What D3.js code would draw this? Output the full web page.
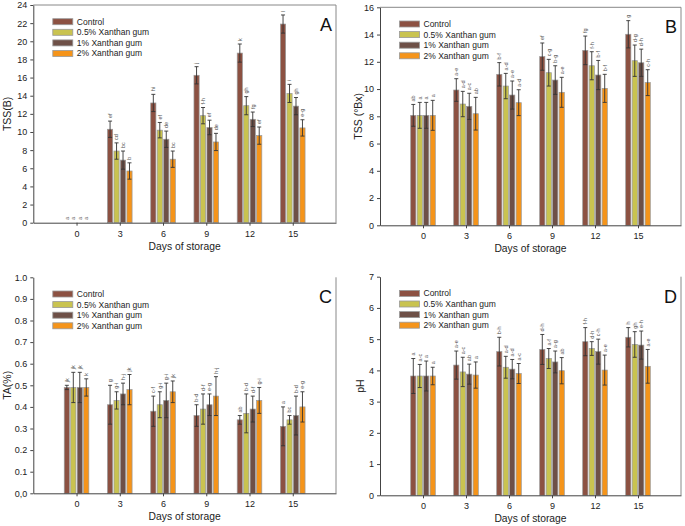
<!DOCTYPE html>
<html><head><meta charset="utf-8">
<script src="https://cdn.jsdelivr.net/npm/d3@7"></script>
<style>body{margin:0;background:#fff}svg{display:block;font-family:"Liberation Sans",Arial,sans-serif}</style>
</head><body><svg id="c" width="685" height="526"></svg>
<script>
const days = ["0","3","6","9","12","15"];
const seriesNames = ["Control","0.5% Xanthan gum","1% Xanthan gum","2% Xanthan gum"];
const seriesColors = ["#8c5142","#c9c350","#6e5047","#f5941a"];

// Panel A: TSS(B)
const A_control = [0, 10.3, 13.2, 16.25, 18.7, 21.9];
const A_x05 = [0, 7.9, 10.2, 11.8, 12.9, 14.25];
const A_x1 = [0, 6.9, 9.2, 10.5, 11.4, 12.85];
const A_x2 = [0, 5.7, 7.0, 8.9, 9.6, 10.45];
const A_err_control = [0, 0.9, 0.95, 0.95, 1.0, 1.0];
const A_err_x05 = [0, 0.9, 0.85, 0.9, 1.0, 1.0];
const A_err_x1 = [0, 1.0, 0.9, 0.8, 0.8, 0.95];
const A_err_x2 = [0, 0.9, 0.9, 0.95, 0.95, 0.9];
const A_lab_control = ["a","ef","hi","j","k","l"];
const A_lab_x05 = ["a","cd","ef","f-h","gh","i"];
const A_lab_x1 = ["a","bc","de","ef","fg","gh"];
const A_lab_x2 = ["a","b","bc","de","ef","e-g"];

// Panel B: TSS (°Bx)
const B_control = [8.07, 9.93, 11.08, 12.38, 12.84, 14.02];
const B_x05 = [8.07, 8.9, 10.22, 11.2, 11.71, 12.08];
const B_x1 = [8.07, 8.73, 9.56, 10.66, 11.03, 11.93];
const B_x2 = [8.07, 8.19, 9.0, 9.76, 10.05, 10.47];
const B_err_control = [0.8, 0.83, 0.86, 1.0, 1.05, 1.0];
const B_err_x05 = [0.95, 0.93, 0.93, 0.98, 1.03, 1.15];
const B_err_x1 = [0.95, 0.96, 1.03, 1.05, 1.07, 1.0];
const B_err_x2 = [1.1, 1.2, 0.95, 1.1, 1.03, 0.95];
const B_lab_control = ["ab","a-e","b-f","ef","fg","g"];
const B_lab_x05 = ["a","a-d","a-d","c-g","f-h","d-g"];
const B_lab_x1 = ["a","a-c","a-e","b-g","b-f","d-h"];
const B_lab_x2 = ["a","ab","a-d","a-e","b-f","c-h"];

// Panel C: TA(%)
const C_control = [0.49, 0.41, 0.38, 0.36, 0.34, 0.31];
const C_x05 = [0.49, 0.43, 0.41, 0.39, 0.37, 0.34];
const C_x1 = [0.49, 0.46, 0.43, 0.41, 0.39, 0.36];
const C_x2 = [0.49, 0.48, 0.47, 0.45, 0.43, 0.40];
const C_err_control = [0.01, 0.09, 0.07, 0.05, 0.02, 0.09];
const C_err_x05 = [0.07, 0.04, 0.06, 0.07, 0.09, 0.02];
const C_err_x1 = [0.07, 0.05, 0.08, 0.05, 0.06, 0.09];
const C_err_x2 = [0.04, 0.07, 0.05, 0.09, 0.06, 0.07];
const C_lab_control = ["jk","g","c-f","b-d","ab","a"];
const C_lab_x05 = ["jk","g-i","g-i","d-f","b-d","bc"];
const C_lab_x1 = ["jk","h-j","g-i","e-g","d-f","b-d"];
const C_lab_x2 = ["k","jk","jk","h-j","g-i","e-g"];

// Panel D: pH
const D_control = [3.82, 4.17, 4.6, 4.67, 4.92, 5.06];
const D_x05 = [3.82, 3.95, 4.1, 4.38, 4.7, 4.83];
const D_x1 = [3.82, 3.88, 4.04, 4.27, 4.6, 4.81];
const D_x2 = [3.82, 3.85, 3.9, 3.99, 4.01, 4.13];
const D_err_control = [0.56, 0.45, 0.46, 0.48, 0.45, 0.31];
const D_err_x05 = [0.37, 0.47, 0.35, 0.32, 0.22, 0.41];
const D_err_x1 = [0.48, 0.32, 0.31, 0.35, 0.4, 0.45];
const D_err_x2 = [0.28, 0.42, 0.32, 0.42, 0.48, 0.54];
const D_lab_control = ["a","a-e","b-h","d-h","f-h","h"];
const D_lab_x05 = ["a-c","a-c","a-d","a-f","d-h","gh"];
const D_lab_x1 = ["a","ab","a-d","a-g","c-h","e-h"];
const D_lab_x2 = ["a","a","a-c","ab","a-e","a-e"];

const yTicksA = d3.range(0, 25, 2);
const yTicksB = d3.range(0, 17, 2);
const yTicksC = d3.range(0, 11).map(d => d / 10);
const yTicksD = d3.range(0, 8, 1);

const panels = [
  {letter:"A", ylabel:"TSS(B)", box:{l:33.3,r:336,t:5,b:222.7}, topLine:true, ymax:24, ticks:yTicksA, fmt:d=>d,
   vals:[A_control,A_x05,A_x1,A_x2], errs:[A_err_control,A_err_x05,A_err_x1,A_err_x2], labs:[A_lab_control,A_lab_x05,A_lab_x1,A_lab_x2], ylx:7},
  {letter:"B", ylabel:"TSS (°Bx)", box:{l:380,r:681,t:7.3,b:225.3}, topLine:true, ymax:16, ticks:yTicksB, fmt:d=>d,
   vals:[B_control,B_x05,B_x1,B_x2], errs:[B_err_control,B_err_x05,B_err_x1,B_err_x2], labs:[B_lab_control,B_lab_x05,B_lab_x1,B_lab_x2], ylx:358},
  {letter:"C", ylabel:"TA(%)", box:{l:33.3,r:336,t:277.3,b:493.3}, topLine:false, ymax:1, ticks:yTicksC, fmt:d=> d===0 ? "0,0" : d3.format(".1f")(d),
   vals:[C_control,C_x05,C_x1,C_x2], errs:[C_err_control,C_err_x05,C_err_x1,C_err_x2], labs:[C_lab_control,C_lab_x05,C_lab_x1,C_lab_x2], ylx:7},
  {letter:"D", ylabel:"pH", box:{l:380,r:681,t:276.7,b:495.3}, topLine:false, ymax:7, ticks:yTicksD, fmt:d=>d,
   vals:[D_control,D_x05,D_x1,D_x2], errs:[D_err_control,D_err_x05,D_err_x1,D_err_x2], labs:[D_lab_control,D_lab_x05,D_lab_x1,D_lab_x2], ylx:360}
];

const svg = d3.select("#c");
const axisColor = "#444";

panels.forEach(p => {
  const {l,r,t,b} = p.box;
  const g = svg.append("g");
  const xCat = d3.scaleLinear().domain([-1, days.length]).range([l, r]);
  const xPos = d => xCat(days.indexOf(d));
  const xSub = d3.scaleBand().domain(d3.range(seriesNames.length)).range([-12.3, 12.3]).paddingInner(0.2);
  const y = d3.scaleLinear().domain([0, p.ymax]).range([b, t]);

  // frame lines
  if (p.topLine) g.append("line").attr("x1", l).attr("x2", r).attr("y1", t).attr("y2", t).attr("stroke", "#888").attr("stroke-width", 1);
  g.append("line").attr("x1", r).attr("x2", r).attr("y1", t).attr("y2", b).attr("stroke", "#888").attr("stroke-width", 1);

  // bars
  seriesNames.forEach((s, si) => {
    days.forEach((d, di) => {
      const v = p.vals[si][di], e = p.errs[si][di];
      const cx = xPos(d) + xSub(si);
      g.append("rect").attr("x", cx).attr("width", xSub.bandwidth())
        .attr("y", y(v)).attr("height", y(0) - y(v))
        .attr("fill", seriesColors[si]).attr("stroke", "#999").attr("stroke-width", 0.7);
      const mx = cx + xSub.bandwidth() / 2;
      if (e > 0) {
        g.append("line").attr("x1", mx).attr("x2", mx).attr("y1", y(v - e)).attr("y2", y(v + e)).attr("stroke", "#333").attr("stroke-width", 0.9);
        [v - e, v + e].forEach(yy => g.append("line").attr("x1", mx - 2).attr("x2", mx + 2).attr("y1", y(yy)).attr("y2", y(yy)).attr("stroke", "#333").attr("stroke-width", 0.9));
      }
      const ly = y(v + e) - 3;
      g.append("text").attr("transform", `translate(${mx},${ly}) rotate(-90)`)
        .attr("dy", "0.35em").attr("font-size", 5.5).attr("fill", "#555").text(p.labs[si][di]);
    });
  });

  // axes
  const xAxis = d3.axisBottom(xCat).tickValues(d3.range(days.length)).tickFormat(i => days[i]).tickSize(3).tickSizeOuter(0);
  const gx = g.append("g").attr("transform", `translate(0,${b})`).call(xAxis);
  gx.select(".domain").attr("stroke", axisColor);
  gx.selectAll(".tick line").attr("stroke", axisColor);
  gx.selectAll("text").attr("font-size", 9).attr("fill", "#222").attr("dy", "0.9em").attr("font-family", "Liberation Sans, Arial, sans-serif");

  const yAxis = d3.axisLeft(y).tickValues(p.ticks).tickFormat(p.fmt).tickSize(3).tickSizeOuter(0);
  const gy = g.append("g").attr("transform", `translate(${l},0)`).call(yAxis);
  gy.select(".domain").attr("stroke", axisColor);
  gy.selectAll(".tick line").attr("stroke", axisColor);
  gy.selectAll("text").attr("font-size", 9).attr("fill", "#222").attr("font-family", "Liberation Sans, Arial, sans-serif");

  // axis titles
  g.append("text").attr("x", (l + r) / 2 - 0.5*0).attr("y", b + 27).attr("text-anchor", "middle")
    .attr("font-size", 10.3).attr("fill", "#222").text("Days of storage");
  g.append("text").attr("transform", `translate(${p.ylx + 3.5},${(t + b) / 2}) rotate(-90)`).attr("text-anchor", "middle")
    .attr("font-size", 10.5).attr("fill", "#222").text(p.ylabel);

  // panel letter
  g.append("text").attr("x", r - 4).attr("y", t + 26).attr("text-anchor", "end")
    .attr("font-size", 18).attr("fill", "#111").text(p.letter);

  // legend
  const lg = g.append("g").attr("transform", `translate(${l + 19.5},${t + 16.7})`);
  seriesNames.forEach((s, si) => {
    const row = lg.append("g").attr("transform", `translate(0,${si * 10.6})`);
    row.append("rect").attr("x", 0).attr("y", -3).attr("width", 20).attr("height", 6)
      .attr("fill", seriesColors[si]).attr("stroke", "#999").attr("stroke-width", 0.8);
    row.append("text").attr("x", 24).attr("y", 0).attr("dy", "0.35em").attr("font-size", 8.5).attr("fill", "#222").text(s);
  });
});
</script></body></html>
